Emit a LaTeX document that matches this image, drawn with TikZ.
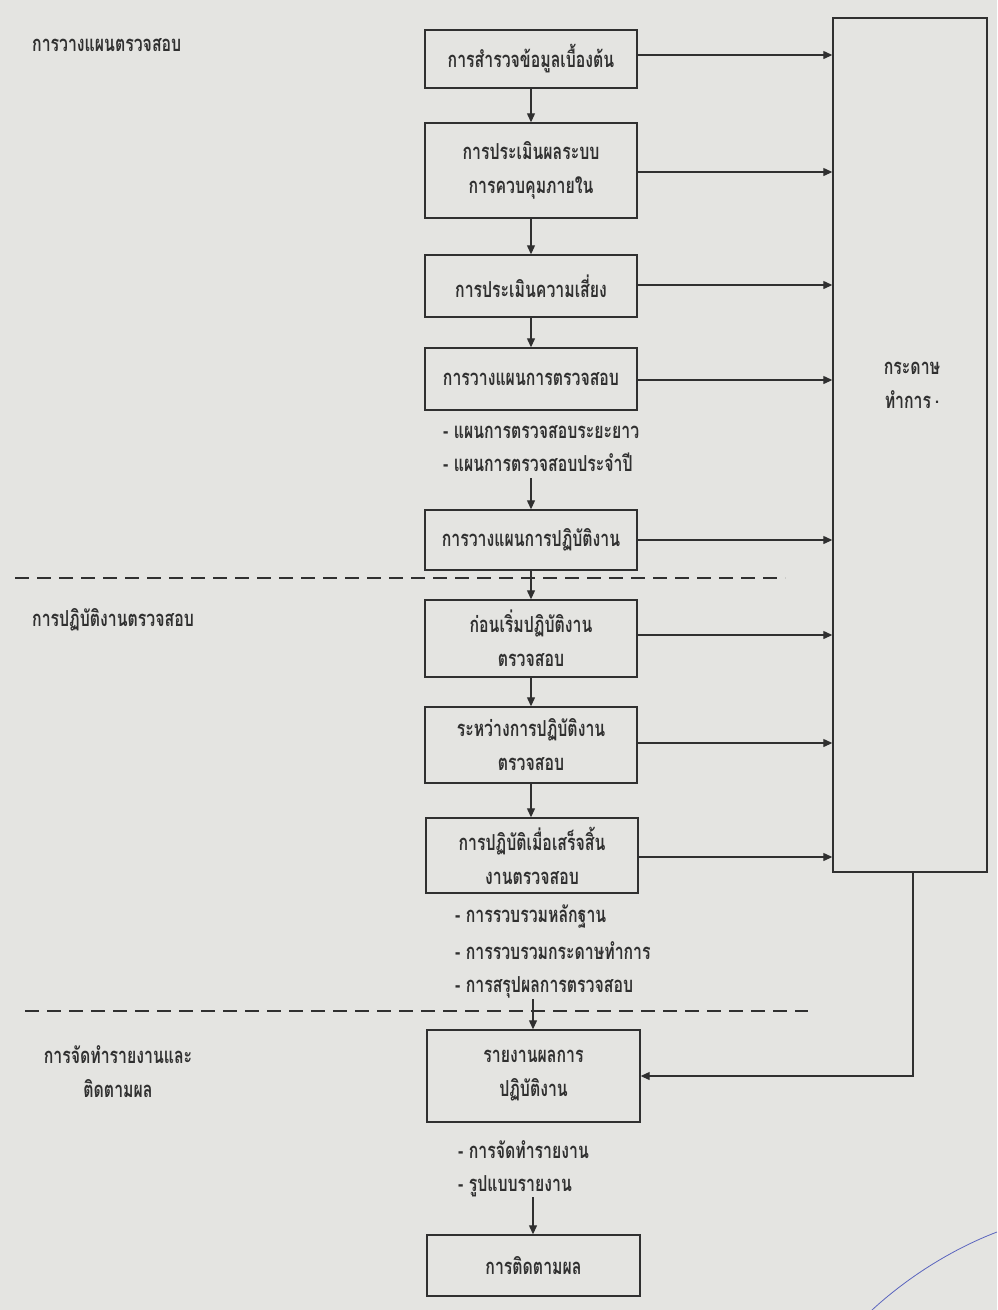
\documentclass[tikz,border=0pt]{standalone}
\usepackage{fontspec}
\newfontfamily\thaifont[Script=Thai,FakeStretch=0.72]{Loma}
\usetikzlibrary{arrows.meta}
\definecolor{bg}{RGB}{228,228,225}
\definecolor{ink}{RGB}{48,48,48}
\definecolor{pen}{RGB}{90,100,190}
\tikzset{
  every node/.style={font=\thaifont\bfseries\fontsize{22}{34}\selectfont, text=ink},
  stepbox/.style={draw=ink, line width=1.4pt, minimum width=212pt, align=center, inner sep=0pt},
  conn/.style={draw=ink, line width=1.2pt, -{Triangle[length=9pt,width=8pt]}},
  sep/.style={draw=ink, line width=1.5pt, dash pattern=on 14pt off 8pt},
  bullet/.style={anchor=west, inner sep=0pt},
  side/.style={anchor=west, inner sep=0pt}
}
\begin{document}
\begin{tikzpicture}[x=1pt,y=-1pt]
\useasboundingbox[fill=bg] (0,0) rectangle (997,1310);

% left section labels
\node[side] (l1) at (32,45) {การวางแผนตรวจสอบ};
\node[side] (l2) at (32,620) {การปฏิบัติงานตรวจสอบ};
\node[align=center, inner sep=0pt] (l3) at (118,1072) {การจัดทำรายงานและ\\ติดตามผล};

% main boxes
\node[stepbox, minimum height=58pt] (b1) at (531,59) {การสำรวจข้อมูลเบื้องต้น};
\node[stepbox, minimum height=95pt] (b2) at (531,170.5) {การประเมินผลระบบ\\การควบคุมภายใน};
\node[stepbox, minimum height=62pt] (b3) at (531,286) {การประเมินความเสี่ยง};
\node[stepbox, minimum height=62pt] (b4) at (531,379) {การวางแผนการตรวจสอบ};
\node[bullet] (t41) at (443,432) {- แผนการตรวจสอบระยะยาว};
\node[bullet] (t42) at (443,462) {- แผนการตรวจสอบประจำปี};
\node[stepbox, minimum height=60pt] (b5) at (531,540) {การวางแผนการปฏิบัติงาน};
\node[stepbox, minimum height=77pt] (b6) at (531,638.5) {ก่อนเริ่มปฏิบัติงาน\\ตรวจสอบ};
\node[stepbox, minimum height=76pt] (b7) at (531,745) {ระหว่างการปฏิบัติงาน\\ตรวจสอบ};
\node[stepbox, minimum height=75pt] (b8) at (532,855.5) {การปฏิบัติเมื่อเสร็จสิ้น\\งานตรวจสอบ};
\node[bullet] (t81) at (455,917) {- การรวบรวมหลักฐาน};
\node[bullet] (t82) at (455,951) {- การรวบรวมกระดาษทำการ};
\node[bullet] (t83) at (455,987) {- การสรุปผลการตรวจสอบ};
\node[stepbox, minimum height=92pt, minimum width=213pt] (b9) at (533.5,1076) {รายงานผลการ\\ปฏิบัติงาน};
\node[bullet] (t91) at (458,1150) {- การจัดทำรายงาน};
\node[bullet] (t92) at (458,1186) {- รูปแบบรายงาน};
\node[stepbox, minimum height=61pt, minimum width=213pt] (b10) at (533.5,1265.5) {การติดตามผล};

% right box
\node[stepbox, minimum width=154pt, minimum height=854pt] (R) at (910,445) {};
\node[align=center, inner sep=0pt] (rt) at (912,385) {กระดาษ\\ทำการ\,\raisebox{0.2em}{.}};

% section separators
\coordinate (s1a) at (15,578);
\coordinate (s1b) at (785,578);
\coordinate (s2a) at (25,1011);
\coordinate (s2b) at (808,1011);
\draw[sep] (s1a) -- (s1b);
\draw[sep] (s2a) -- (s2b);

% vertical flow
\coordinate (a4) at (531,478);
\coordinate (a8) at (533,999);
\coordinate (a9) at (533,1197);
\draw[conn] (b1.south) -- (b2.north);
\draw[conn] (b2.south) -- (b3.north);
\draw[conn] (b3.south) -- (b4.north);
\draw[conn] (a4) -- (a4 |- b5.north);
\draw[conn] (b5.south) -- (b6.north);
\draw[conn] (b6.south) -- (b7.north);
\draw[conn] (b7.south) -- (b8.north -| b7.south);
\draw[conn] (a8) -- (a8 |- b9.north);
\draw[conn] (a9) -- (a9 |- b10.north);

% arrows to working papers
\foreach \b/\yy in {b1/55,b2/172,b3/285,b4/380,b5/540,b6/635,b7/743,b8/857}{
  \draw[conn] (\b.east |- 0,\yy) -- (R.west |- 0,\yy);
}
% working papers to report
\coordinate (rb) at (913,0);
\draw[conn] (rb |- R.south) |- (b9.east);

% stray pen mark
\draw[pen, line width=0.8pt] (872,1310) .. controls (910,1275) and (955,1248) .. (997,1232);
\end{tikzpicture}
\end{document}
